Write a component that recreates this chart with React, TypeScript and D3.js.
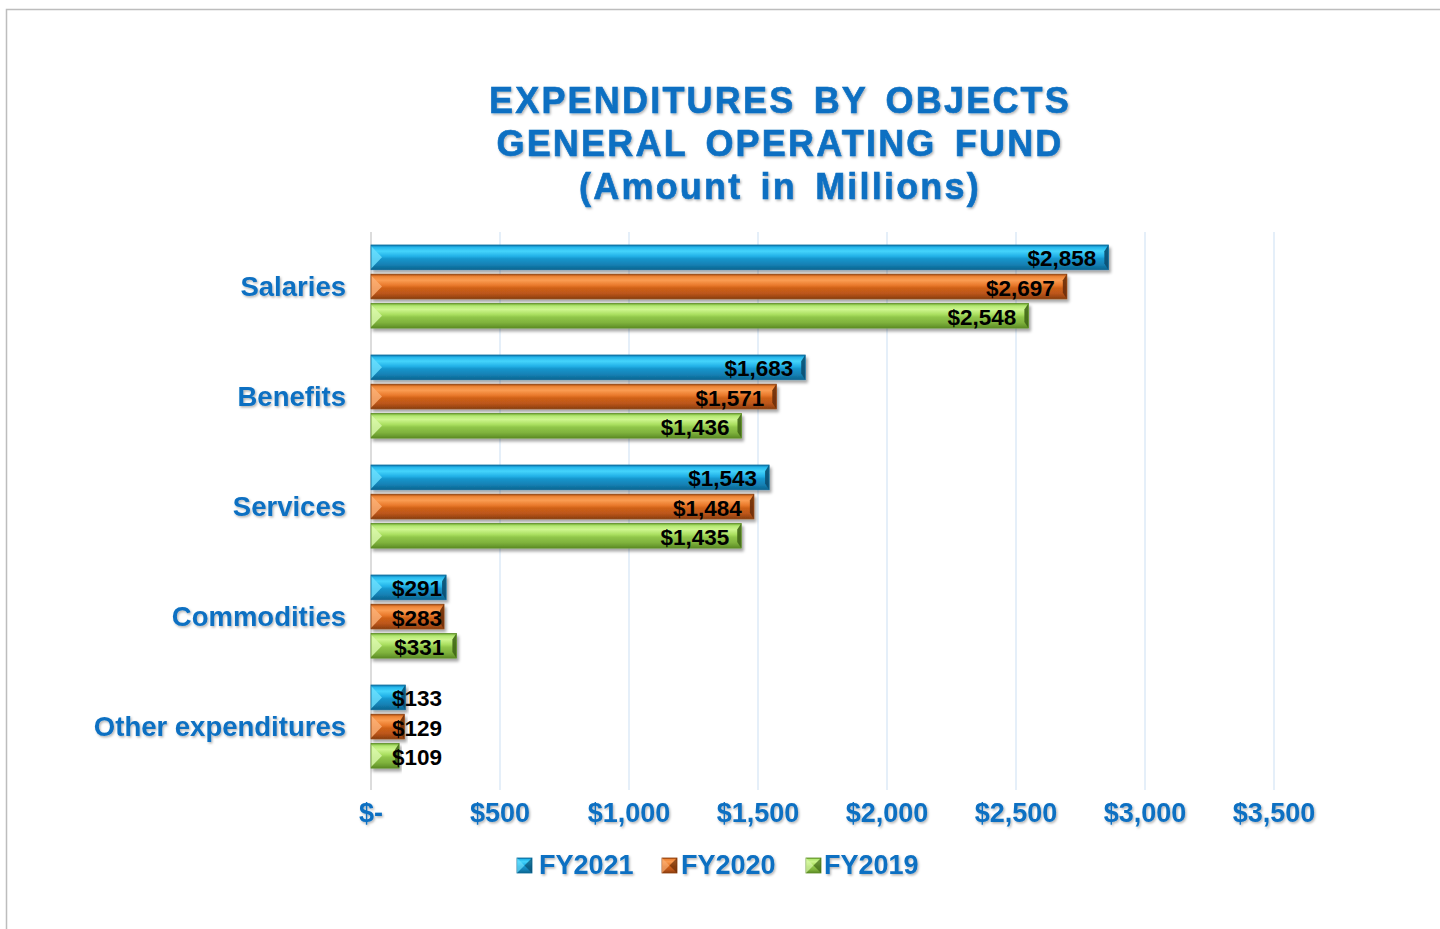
import React from "react";
import * as d3 from "d3";

const categories = ["Salaries", "Benefits", "Services", "Commodities", "Other expenditures"];
const seriesNames = ["FY2021", "FY2020", "FY2019"];
const fy2021 = [2858, 1683, 1543, 291, 133];
const fy2020 = [2697, 1571, 1484, 283, 129];
const fy2019 = [2548, 1436, 1435, 331, 109];
const seriesValues = [fy2021, fy2020, fy2019];
const xTicks = [0, 500, 1000, 1500, 2000, 2500, 3000, 3500];
const titleLines = ["EXPENDITURES BY OBJECTS", "GENERAL OPERATING FUND", "(Amount in Millions)"];

const W = 1440;
const H = 929;
const BLUE = "#0A6FC2";

const palettes = [
  { id: "b", stops: ["#0A78B0", "#25B8EC", "#45D4FB", "#22B2E8", "#1696CC", "#1482B6", "#0D6690"], left: "#6ADDFB", right: "#0A4E70", edge: "#0B6A9A" },
  { id: "o", stops: ["#A84A0E", "#EE8638", "#FA9C52", "#E9792B", "#CF6119", "#BC561A", "#8A3D0E"], left: "#F9AE74", right: "#6A2C06", edge: "#8E400E" },
  { id: "g", stops: ["#6AA22C", "#B4E873", "#CDF58E", "#AADF60", "#90C64A", "#7FB23C", "#5C8C25"], left: "#D8F7AA", right: "#3F6616", edge: "#5F8F28" },
];
const stopOffsets = [0, 0.1, 0.25, 0.45, 0.56, 0.78, 1];

function textWidth(s: string, size: number) {
  let w = 0;
  for (const c of s) w += c === "," ? 0.278 : 0.556;
  return w * size;
}

export default function App() {
  const x0px = 371;
  const x = d3.scaleLinear().domain([0, 3500]).range([x0px, 1274]);
  const y = d3
    .scaleBand<string>()
    .domain(categories)
    .range([231.8, 781.3])
    .paddingInner(0.245)
    .paddingOuter(0.12);
  const ys = d3
    .scaleBand<string>()
    .domain(seriesNames)
    .range([0, y.bandwidth()])
    .paddingInner(0.155);
  const gridTop = 232;
  const gridBottom = 790;
  const labelSize = 22.5;

  const bevel = (pi: number, bx0: number, bx1: number, by: number, bh: number, key: string) => {
    const p = palettes[pi];
    const lw = Math.min(11, (bx1 - bx0) / 2);
    const rw = Math.min(4, (bx1 - bx0) / 3);
    return (
      <g key={key} filter="url(#shadow)">
        <rect x={bx0} y={by} width={bx1 - bx0} height={bh} fill={`url(#grad-${p.id})`} />
        <polygon
          points={`${bx0},${by + 1} ${bx0 + lw},${by + bh / 2} ${bx0},${by + bh - 1}`}
          fill={p.left}
          opacity={0.85}
        />
        <polygon
          points={`${bx1},${by} ${bx1 - rw},${by + bh * 0.25} ${bx1 - rw},${by + bh * 0.75} ${bx1},${by + bh}`}
          fill={p.right}
          opacity={0.9}
        />
        <rect x={bx0} y={by} width={bx1 - bx0} height={bh} fill="none" stroke={p.edge} strokeWidth={0.8} />
      </g>
    );
  };

  const legendItems = [
    { sq: 517, tx: 539 },
    { sq: 662, tx: 681 },
    { sq: 806, tx: 824 },
  ];

  return (
    <svg
      width={W}
      height={H}
      style={{ position: "fixed", left: 0, top: 0, background: "#fff" }}
      fontFamily="'Liberation Sans', Arial, sans-serif"
    >
      <defs>
        {palettes.map((p) => (
          <linearGradient key={p.id} id={`grad-${p.id}`} x1="0" y1="0" x2="0" y2="1">
            {p.stops.map((c, i) => (
              <stop key={i} offset={stopOffsets[i]} stopColor={c} />
            ))}
          </linearGradient>
        ))}
        <filter id="shadow" x="-5%" y="-30%" width="115%" height="180%">
          <feDropShadow dx="2" dy="3" stdDeviation="1.8" floodColor="#000" floodOpacity="0.35" />
        </filter>
        <filter id="tshadow" x="-5%" y="-20%" width="110%" height="150%">
          <feDropShadow dx="1.2" dy="1.5" stdDeviation="1" floodColor="#000" floodOpacity="0.3" />
        </filter>
      </defs>

      <rect x={0} y={0} width={W} height={H} fill="#fff" />
      <rect x={6.5} y={9.5} width={W + 10} height={H + 10} fill="none" stroke="#BDBDBD" strokeWidth={1.5} />

      {/* title */}
      <g filter="url(#tshadow)">
        {titleLines.map((t, i) => (
          <text
            key={i}
            x={780}
            y={113 + i * 43}
            textAnchor="middle"
            fontSize={36}
            fontWeight="bold"
            letterSpacing={2.2}
            wordSpacing={6}
            fill={BLUE}
            stroke={BLUE}
            strokeWidth={0.6}
          >
            {t}
          </text>
        ))}
      </g>

      {/* gridlines */}
      {xTicks.map((t) => (
        <line
          key={t}
          x1={x(t)}
          x2={x(t)}
          y1={gridTop}
          y2={gridBottom}
          stroke={t === 0 ? "#D0D0D0" : "#DCEAF7"}
          strokeWidth={1.5}
        />
      ))}

      {/* bars */}
      {categories.map((c, ci) =>
        seriesNames.map((s, si) => {
          const v = seriesValues[si][ci];
          const by = (y(c) as number) + (ys(s) as number);
          const bh = ys.bandwidth();
          return bevel(si, x(0), x(v), by, bh, `${c}-${s}`);
        })
      )}

      {/* value labels */}
      {categories.map((c, ci) =>
        seriesNames.map((s, si) => {
          const v = seriesValues[si][ci];
          const label = "$" + d3.format(",")(v);
          const by = (y(c) as number) + (ys(s) as number);
          const bh = ys.bandwidth();
          const w = textWidth(label, labelSize);
          let tx = x(v) - 12;
          let anchor = "end";
          if (tx - w < x(0) + 21) {
            tx = x(0) + 21;
            anchor = "start";
          }
          return (
            <text
              key={`l-${c}-${s}`}
              x={tx}
              y={by + bh / 2 + 1.5}
              textAnchor={anchor}
              dominantBaseline="central"
              fontSize={labelSize}
              fontWeight="bold"
              fill="#000"
            >
              {label}
            </text>
          );
        })
      )}

      {/* category labels */}
      {categories.map((c) => (
        <text
          key={c}
          x={x0px - 25}
          y={(y(c) as number) + y.bandwidth() / 2}
          textAnchor="end"
          dominantBaseline="central"
          fontSize={27.5}
          fontWeight="bold"
          fill={BLUE}
          filter="url(#tshadow)"
        >
          {c}
        </text>
      ))}

      {/* x tick labels */}
      {xTicks.map((t) => (
        <text
          key={`t${t}`}
          x={x(t)}
          y={813}
          textAnchor="middle"
          dominantBaseline="central"
          fontSize={27}
          fontWeight="bold"
          fill={BLUE}
          filter="url(#tshadow)"
        >
          {t === 0 ? "$-" : "$" + d3.format(",")(t)}
        </text>
      ))}

      {/* legend */}
      {seriesNames.map((s, i) => {
        const p = palettes[i];
        const L = legendItems[i];
        const sz = 15;
        const sy = 858;
        return (
          <g key={s}>
            <rect x={L.sq} y={sy} width={sz} height={sz} fill={`url(#grad-${p.id})`} stroke={p.edge} strokeWidth={0.8} />
            <polygon points={`${L.sq},${sy} ${L.sq + sz / 2},${sy + sz / 2} ${L.sq},${sy + sz}`} fill={p.left} opacity={0.7} />
            <polygon points={`${L.sq + sz},${sy} ${L.sq + sz / 2},${sy + sz / 2} ${L.sq + sz},${sy + sz}`} fill={p.right} opacity={0.7} />
            <text
              x={L.tx}
              y={865}
              dominantBaseline="central"
              fontSize={27}
              fontWeight="bold"
              fill={BLUE}
              filter="url(#tshadow)"
            >
              {s}
            </text>
          </g>
        );
      })}
    </svg>
  );
}
